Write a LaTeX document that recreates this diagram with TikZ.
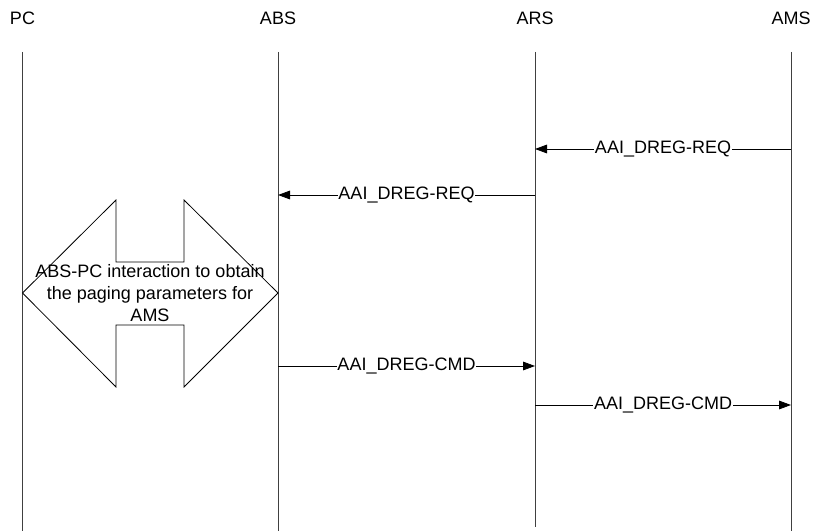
\documentclass[tikz,border=0pt]{standalone}
\usepackage{fontspec}
\setmainfont{Liberation Sans}
\usetikzlibrary{arrows.meta}

\begin{document}
\begin{tikzpicture}[x=0.75pt, y=-0.75pt, font=\fontsize{13.5}{16.3}\selectfont,
  head/.style={inner sep=0pt},
  life/.style={draw=black!75, line width=0.75pt},
  msg/.style={-{Triangle[length=9pt, width=6.5pt]}, line width=0.6pt},
  lbl/.style={fill=white, inner sep=0.4pt},
  blk/.style={draw, line width=0.6pt, fill=white}]
\useasboundingbox (0,0) rectangle (813,531);
% entities and their lifelines
\node[head] (pc) at (22.5,18) {PC};
\node[head] (abs) at (278,18) {ABS};
\node[head] (ars) at (535,18) {ARS};
\node[head] (ams) at (791,18) {AMS};
\draw[life] (pc |- 0,52) -- (pc |- 0,531);
\draw[life] (abs |- 0,52) -- (abs |- 0,531);
\draw[life] (ars |- 0,52) -- (ars |- 0,527);
\draw[life] (ams |- 0,52) -- (ams |- 0,531);
% deregistration request
\draw[msg] (ams |- 0,149) -- node[lbl]{AAI\_DREG-REQ} (ars |- 0,149);
\draw[msg] (ars |- 0,195) -- node[lbl]{AAI\_DREG-REQ} (abs |- 0,195);
% ABS-PC exchange
\draw[blk] (pc |- 0,293) -- (116,200) -- (116,262) -- (184,262) -- (184,200)
  -- (abs |- 0,293) -- (184,387) -- (184,325) -- (116,325) -- (116,387) -- cycle;
\node[align=center, inner sep=0pt] (xchg) at (150,293)
  {ABS-PC interaction to obtain\\the paging parameters for\\AMS};
% deregistration command
\draw[msg] (abs |- 0,366) -- node[lbl]{AAI\_DREG-CMD} (ars |- 0,366);
\draw[msg] (ars |- 0,405) -- node[lbl]{AAI\_DREG-CMD} (ams |- 0,405);
\end{tikzpicture}
\end{document}
